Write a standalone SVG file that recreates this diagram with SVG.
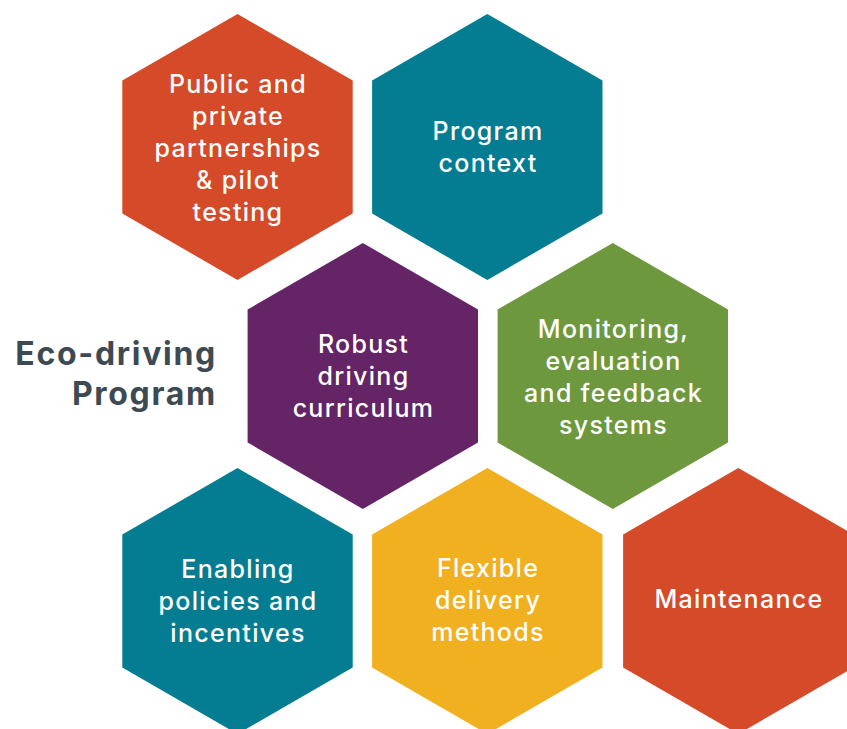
<svg xmlns="http://www.w3.org/2000/svg" width="847" height="729" viewBox="0 0 847 729">
  <defs>
    <!-- regular pointy-top hexagon, radius 133, centred on the origin -->
    <polygon id="hex" points="0,-133 115.2,-66.5 115.2,66.5 0,133 -115.2,66.5 -115.2,-66.5"/>
  </defs>
  <style>
    .lbl { font-family: Inter, "Open Sans", "Liberation Sans", sans-serif; font-size: 25px; font-weight: 500; fill: #ffffff; text-anchor: middle; letter-spacing: 1.3px; }
    .title { font-family: Inter, "Open Sans", "Liberation Sans", sans-serif; font-size: 32px; font-weight: 700; fill: #3d4a54; text-anchor: end; letter-spacing: 1.7px; }
    .orange { fill: #d54a29; }
    .teal { fill: #047c91; }
    .purple { fill: #642466; }
    .green { fill: #6d983e; }
    .yellow { fill: #f0b020; }
  </style>
  <rect width="847" height="729" fill="#ffffff"/>

  <g id="title">
    <text class="title" x="217" y="365">Eco-driving</text>
    <text class="title" x="217" y="405">Program</text>
  </g>

  <g id="partnerships">
    <use href="#hex" class="orange" x="237.5" y="147"/>
    <text class="lbl" x="238" y="93">Public and</text>
    <text class="lbl" x="238" y="125">private</text>
    <text class="lbl" x="238" y="157">partnerships</text>
    <text class="lbl" x="238" y="189">&amp; pilot</text>
    <text class="lbl" x="238" y="221">testing</text>
  </g>

  <g id="context">
    <use href="#hex" class="teal" x="487.3" y="147"/>
    <text class="lbl" x="488" y="140">Program</text>
    <text class="lbl" x="488" y="172">context</text>
  </g>

  <g id="curriculum">
    <use href="#hex" class="purple" x="362.8" y="376"/>
    <text class="lbl" x="363.5" y="353">Robust</text>
    <text class="lbl" x="363.5" y="385">driving</text>
    <text class="lbl" x="363.5" y="417">curriculum</text>
  </g>

  <g id="monitoring">
    <use href="#hex" class="green" x="612.8" y="376"/>
    <text class="lbl" x="613.5" y="338">Monitoring,</text>
    <text class="lbl" x="613.5" y="370">evaluation</text>
    <text class="lbl" x="613.5" y="402">and feedback</text>
    <text class="lbl" x="613.5" y="434">systems</text>
  </g>

  <g id="policies">
    <use href="#hex" class="teal" x="237.5" y="601"/>
    <text class="lbl" x="238" y="578">Enabling</text>
    <text class="lbl" x="238" y="610">policies and</text>
    <text class="lbl" x="238" y="642">incentives</text>
  </g>

  <g id="delivery">
    <use href="#hex" class="yellow" x="487.3" y="601"/>
    <text class="lbl" x="488" y="577">Flexible</text>
    <text class="lbl" x="488" y="609">delivery</text>
    <text class="lbl" x="488" y="641">methods</text>
  </g>

  <g id="maintenance">
    <use href="#hex" class="orange" x="738.3" y="601"/>
    <text class="lbl" x="739" y="608">Maintenance</text>
  </g>

  <g id="connectors"/>
</svg>
